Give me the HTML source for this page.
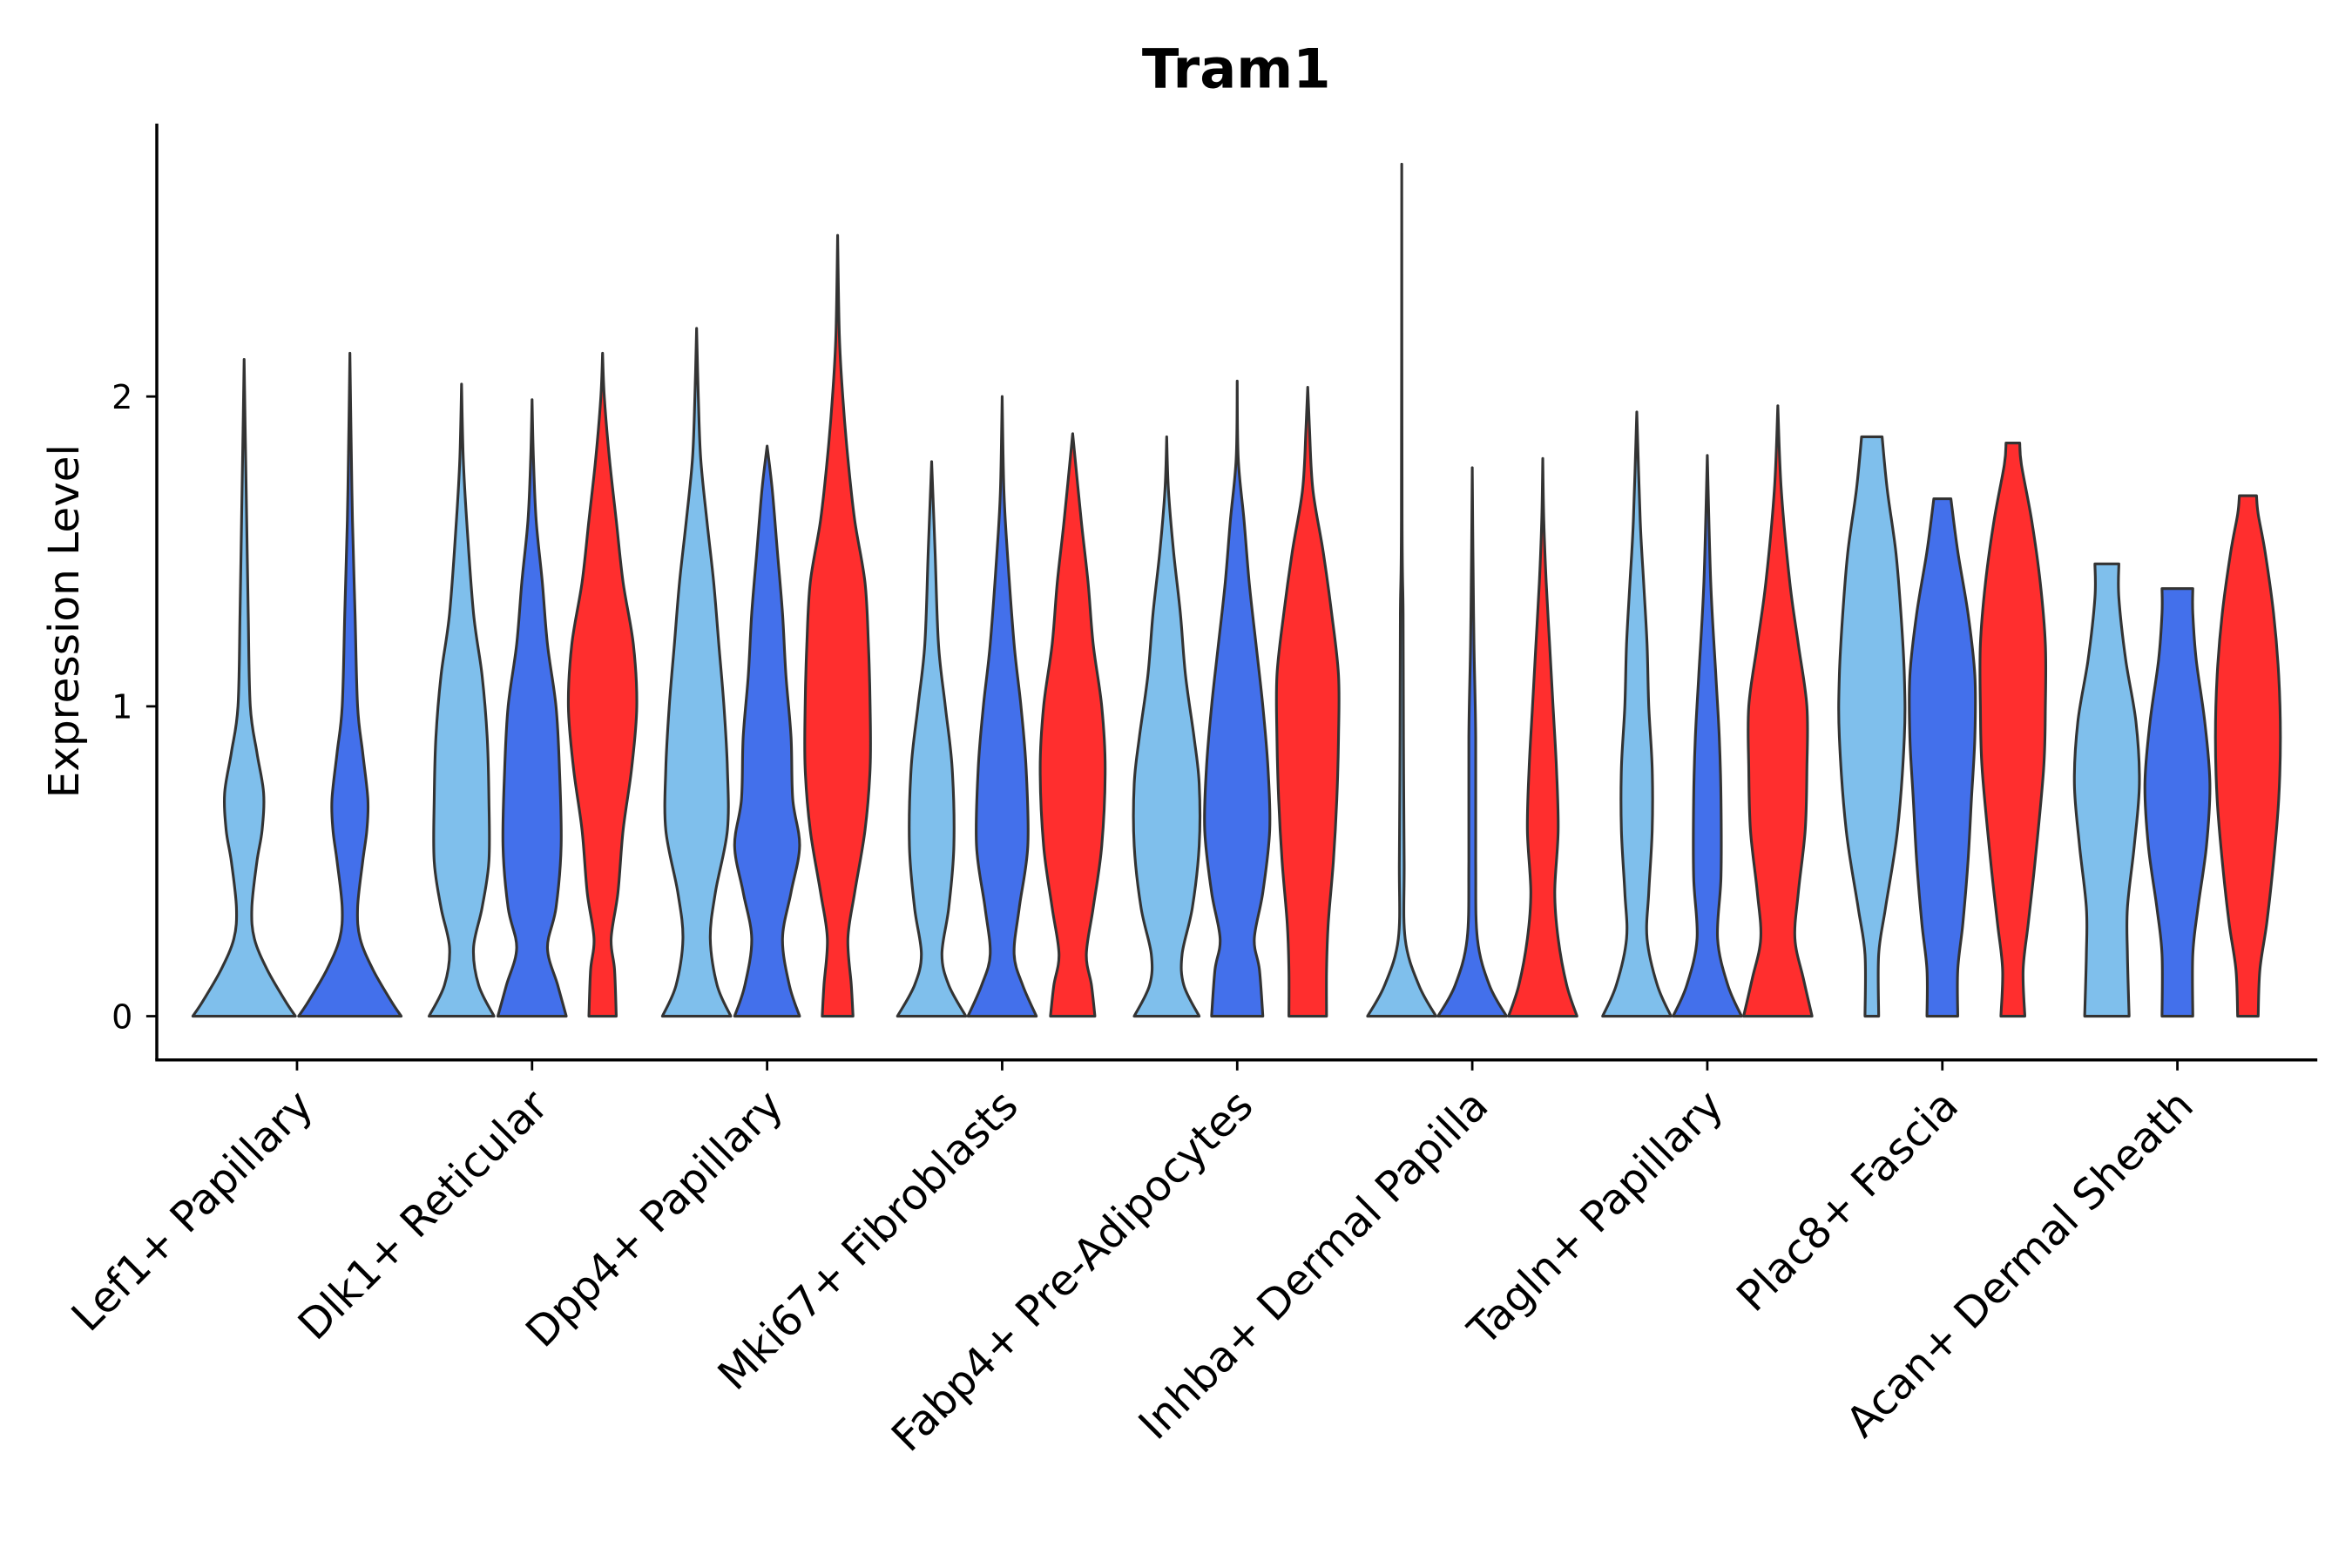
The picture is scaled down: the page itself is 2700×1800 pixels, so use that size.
<!DOCTYPE html>
<html><head><meta charset="utf-8"><style>
html,body{margin:0;padding:0;background:#fff}
svg{display:block}
text{font-family:"DejaVu Sans","Liberation Sans",sans-serif;fill:#000}
</style></head><body>
<svg id="chart" width="2700" height="1800" viewBox="0 0 1560 1040" xmlns="http://www.w3.org/2000/svg">
<text x="820" y="58" text-anchor="middle" font-size="36" font-weight="bold">Tram1</text>
<text transform="translate(52,412) rotate(-90)" text-anchor="middle" font-size="28">Expression Level</text>
<g id="plot"></g>
</svg>
<script>
const categories = ["Lef1+ Papillary","Dlk1+ Reticular","Dpp4+ Papillary","Mki67+ Fibroblasts","Fabp4+ Pre-Adipocytes","Inhba+ Dermal Papilla","Tagln+ Papillary","Plac8+ Fascia","Acan+ Dermal Sheath"];
const seriesNames = ["light","blue","red"];
const yTicks = [0,1,2];
// profiles: [value, relative width] per violin; null = absent
const lightProfiles = [
 [[0,1],[0.05,0.8],[0.15,0.45],[0.25,0.2],[0.35,0.15],[0.5,0.25],[0.6,0.35],[0.72,0.38],[0.85,0.25],[1.0,0.12],[1.3,0.08],[1.6,0.05],[1.9,0.02],[2.12,0]],
 [[0,0.95],[0.1,0.5],[0.22,0.35],[0.35,0.6],[0.5,0.8],[0.7,0.8],[0.9,0.75],[1.1,0.6],[1.3,0.35],[1.6,0.15],[1.8,0.05],[2.04,0]],
 [[0,1],[0.1,0.6],[0.25,0.4],[0.4,0.55],[0.6,0.9],[0.8,0.9],[1.0,0.8],[1.2,0.65],[1.4,0.5],[1.6,0.3],[1.8,0.12],[2.0,0.05],[2.22,0]],
 [[0,1],[0.1,0.5],[0.2,0.3],[0.35,0.5],[0.55,0.65],[0.8,0.6],[1.0,0.4],[1.2,0.2],[1.5,0.1],[1.79,0]],
 [[0,0.95],[0.1,0.5],[0.2,0.45],[0.35,0.75],[0.55,0.95],[0.75,0.95],[0.9,0.8],[1.1,0.55],[1.3,0.4],[1.5,0.2],[1.7,0.05],[1.87,0]],
 [[0,1],[0.1,0.5],[0.25,0.1],[0.5,0.07],[0.9,0.05],[1.3,0.04],[1.6,0.01],[2.75,0]],
 [[0,1],[0.1,0.6],[0.25,0.3],[0.4,0.35],[0.6,0.45],[0.8,0.45],[1.0,0.35],[1.2,0.3],[1.4,0.2],[1.6,0.1],[1.95,0]],
 [[0,0.2],[0.2,0.2],[0.35,0.4],[0.6,0.75],[0.9,0.95],[1.1,0.95],[1.3,0.85],[1.5,0.7],[1.7,0.45],[1.87,0.3]],
 [[0,0.65],[0.2,0.6],[0.35,0.6],[0.55,0.8],[0.75,0.95],[0.95,0.85],[1.15,0.55],[1.35,0.35],[1.46,0.35]]
];
const blueProfiles = [
 [[0,1],[0.05,0.8],[0.15,0.45],[0.25,0.2],[0.35,0.15],[0.5,0.25],[0.6,0.33],[0.7,0.35],[0.85,0.25],[1.0,0.15],[1.3,0.1],[1.6,0.05],[1.9,0.02],[2.14,0]],
 [[0,1],[0.1,0.75],[0.22,0.45],[0.35,0.7],[0.55,0.85],[0.8,0.8],[1.0,0.7],[1.2,0.45],[1.4,0.3],[1.6,0.12],[1.8,0.04],[1.99,0]],
 [[0,0.95],[0.1,0.65],[0.25,0.45],[0.4,0.7],[0.55,0.95],[0.7,0.75],[0.9,0.7],[1.1,0.55],[1.3,0.45],[1.5,0.3],[1.7,0.15],[1.84,0]],
 [[0,1],[0.1,0.6],[0.2,0.35],[0.35,0.5],[0.55,0.75],[0.8,0.7],[1.0,0.55],[1.2,0.35],[1.5,0.15],[1.7,0.05],[2.0,0]],
 [[0,0.75],[0.15,0.65],[0.25,0.5],[0.4,0.75],[0.6,0.95],[0.8,0.9],[1.0,0.75],[1.2,0.55],[1.4,0.35],[1.6,0.2],[1.8,0.03],[2.05,0]],
 [[0,1],[0.1,0.5],[0.25,0.15],[0.5,0.1],[0.9,0.1],[1.2,0.05],[1.5,0.02],[1.77,0]],
 [[0,1],[0.1,0.6],[0.25,0.3],[0.45,0.4],[0.7,0.4],[0.9,0.35],[1.1,0.25],[1.4,0.1],[1.81,0]],
 [[0,0.45],[0.15,0.45],[0.3,0.6],[0.5,0.75],[0.7,0.85],[0.9,0.95],[1.1,0.95],[1.3,0.75],[1.5,0.45],[1.67,0.25]],
 [[0,0.45],[0.2,0.45],[0.35,0.6],[0.55,0.85],[0.75,0.95],[0.95,0.8],[1.15,0.55],[1.3,0.45],[1.38,0.45]]
];
const redProfiles = [
 null,
 [[0,0.4],[0.15,0.35],[0.25,0.25],[0.4,0.45],[0.6,0.6],[0.8,0.85],[1.0,1.0],[1.2,0.9],[1.4,0.6],[1.6,0.4],[1.8,0.2],[2.0,0.05],[2.14,0]],
 [[0,0.45],[0.1,0.4],[0.25,0.3],[0.4,0.5],[0.6,0.8],[0.8,0.95],[1.0,0.95],[1.2,0.9],[1.4,0.8],[1.6,0.5],[1.8,0.3],[2.0,0.15],[2.2,0.05],[2.52,0]],
 [[0,0.65],[0.1,0.55],[0.2,0.4],[0.35,0.6],[0.55,0.85],[0.8,0.95],[1.0,0.85],[1.2,0.6],[1.4,0.45],[1.6,0.25],[1.88,0]],
 [[0,0.55],[0.15,0.55],[0.3,0.6],[0.5,0.75],[0.7,0.85],[0.9,0.9],[1.1,0.9],[1.3,0.7],[1.5,0.45],[1.7,0.15],[1.9,0.05],[2.03,0]],
 [[0,1],[0.1,0.7],[0.25,0.45],[0.4,0.35],[0.6,0.45],[0.8,0.4],[1.0,0.3],[1.2,0.2],[1.4,0.1],[1.6,0.03],[1.8,0]],
 [[0,1],[0.12,0.75],[0.25,0.5],[0.4,0.6],[0.6,0.8],[0.8,0.85],[1.0,0.85],[1.2,0.6],[1.4,0.35],[1.7,0.1],[1.97,0]],
 [[0,0.35],[0.15,0.3],[0.3,0.45],[0.5,0.65],[0.8,0.9],[1.0,0.95],[1.2,0.95],[1.4,0.8],[1.6,0.55],[1.78,0.25],[1.85,0.2]],
 [[0,0.3],[0.15,0.35],[0.3,0.55],[0.5,0.75],[0.7,0.9],[0.9,0.95],[1.1,0.9],[1.3,0.75],[1.5,0.5],[1.62,0.3],[1.68,0.25]]
];
const colors = {light:"#7FBFEC", blue:"#4370EB", red:"#FF2E2E"};

const NS="http://www.w3.org/2000/svg";
const g=document.getElementById('plot');
const X0=104,X1=1537,YT=82,YB=703;
const band=155.9;
const xScale=i=>197+band*i;
const yScale=v=>674-v*205.5;
function mk(t,a){const e=document.createElementNS(NS,t);for(const k in a)e.setAttribute(k,a[k]);g.appendChild(e);return e;}

function smooth(pts){
  let d="";
  for(let i=0;i<pts.length-1;i++){
    const p0=pts[i-1]||pts[i],p1=pts[i],p2=pts[i+1],p3=pts[i+2]||p2;
    const c1=[p1[0]+(p2[0]-p0[0])/6,p1[1]+(p2[1]-p0[1])/6];
    const c2=[p2[0]-(p3[0]-p1[0])/6,p2[1]-(p3[1]-p1[1])/6];
    d+=` C${c1[0].toFixed(2)},${c1[1].toFixed(2)} ${c2[0].toFixed(2)},${c2[1].toFixed(2)} ${p2[0].toFixed(2)},${p2[1].toFixed(2)}`;
  }
  return d;
}
const all={light:lightProfiles,blue:blueProfiles,red:redProfiles};
categories.forEach((cat,i)=>{
  const present=seriesNames.filter(s=>all[s][i]);
  const dw=band*0.9/present.length;
  present.forEach((s,j)=>{
    const prof=all[s][i];
    const cx=xScale(i)-band*0.45+dw*(j+0.5);
    const hw=dw/2*0.97;
    const right=prof.map(p=>[cx+p[1]*hw,yScale(p[0])]);
    const left=prof.slice().reverse().map(p=>[cx-p[1]*hw,yScale(p[0])]);
    let d=`M${left[left.length-1][0]},${left[left.length-1][1]}`;
    d+=` L${right[0][0]},${right[0][1]}`+smooth(right);
    d+=` L${left[0][0]},${left[0][1]}`+smooth(left)+" Z";
    const p=mk('path',{d:d,fill:colors[s],stroke:"#333",'stroke-width':1.8,'stroke-linejoin':'round'});
    
    
  });
  const tk=mk('line',{x1:xScale(i),x2:xScale(i),y1:YB,y2:YB+7,stroke:"#000",'stroke-width':1.6});
  
  
  const tx=xScale(i)+12,ty=YB+32;
  const lb=mk('text',{x:tx,y:ty,'text-anchor':'end','font-size':28,transform:`rotate(-45 ${tx} ${ty})`});
  lb.textContent=cat;
  
  
});
yTicks.forEach(v=>{
  const t=mk('line',{x1:97,x2:104,y1:yScale(v),y2:yScale(v),stroke:"#000",'stroke-width':1.6});
  
  
  const l=mk('text',{x:88,y:yScale(v)+8,'text-anchor':'end','font-size':22});
  l.textContent=v;
  
  
});
const ya=mk('line',{x1:X0,x2:X0,y1:YT,y2:YB,stroke:"#000",'stroke-width':2});


const xa=mk('line',{x1:X0-1,x2:X1,y1:YB,y2:YB,stroke:"#000",'stroke-width':2});


</script>
</body></html>
